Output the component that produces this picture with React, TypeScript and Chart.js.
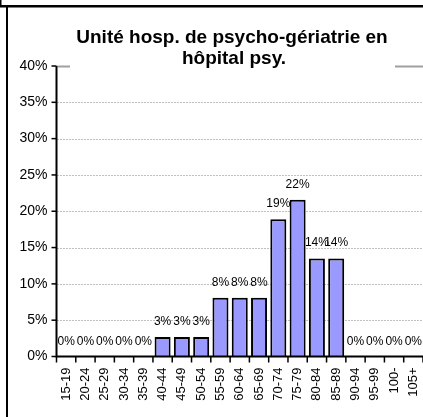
import React, { useEffect, useRef } from "react";
import { Chart, registerables } from "chart.js";

Chart.register(...registerables);

const categories = [
  "15-19", "20-24", "25-29", "30-34", "35-39", "40-44", "45-49", "50-54", "55-59",
  "60-64", "65-69", "70-74", "75-79", "80-84", "85-89", "90-94", "95-99", "100-", "105+",
];
const values = [0, 0, 0, 0, 0, 2.7, 2.7, 2.7, 8.1, 8.1, 8.1, 18.9, 21.6, 13.5, 13.5, 0, 0, 0, 0];
const yTicks = [0, 5, 10, 15, 20, 25, 30, 35, 40];
const titleLines = ["Unité hosp. de psycho-gériatrie en", "hôpital psy."];

const FONT = '"Liberation Sans", Arial, sans-serif';

const decorPlugin = {
  id: "decor",
  beforeDraw(chart: any) {
    const ctx = chart.ctx;
    ctx.save();
    ctx.fillStyle = "#fff";
    ctx.fillRect(0, 0, chart.width, chart.height);
    ctx.restore();
  },
  beforeDatasetsDraw(chart: any) {
    const ctx = chart.ctx;
    const area = chart.chartArea;
    const y = chart.scales.y;
    ctx.save();
    // grid lines
    yTicks.forEach((v) => {
      if (v === 0) return;
      const py = Math.round(y.getPixelForValue(v)) + 0.5;
      ctx.beginPath();
      if (v === 40) {
        ctx.strokeStyle = "#a0a0a0";
        ctx.lineWidth = 2;
        ctx.setLineDash([]);
      } else {
        ctx.strokeStyle = "#808080";
        ctx.lineWidth = 1;
        ctx.setLineDash([1, 2]);
      }
      ctx.moveTo(area.left + 1, py);
      ctx.lineTo(area.right, py);
      ctx.stroke();
    });
    ctx.setLineDash([]);
    // y tick marks
    ctx.strokeStyle = "#000";
    ctx.lineWidth = 1.5;
    yTicks.forEach((v) => {
      const py = y.getPixelForValue(v);
      ctx.beginPath();
      ctx.moveTo(area.left - 5, py);
      ctx.lineTo(area.left, py);
      ctx.stroke();
    });
    // x tick marks (category boundaries)
    const n = categories.length;
    const w = (area.right - area.left) / n;
    for (let i = 0; i <= n; i++) {
      const px = area.left + i * w;
      ctx.beginPath();
      ctx.moveTo(px, area.bottom);
      ctx.lineTo(px, area.bottom + 6);
      ctx.stroke();
    }
    ctx.restore();
  },
  afterDatasetsDraw(chart: any) {
    const ctx = chart.ctx;
    const area = chart.chartArea;
    const meta = chart.getDatasetMeta(0);
    ctx.save();
    // axes
    ctx.strokeStyle = "#000";
    ctx.lineWidth = 2;
    ctx.beginPath();
    ctx.moveTo(area.left, area.top);
    ctx.lineTo(area.left, area.bottom);
    ctx.lineTo(area.right, area.bottom);
    ctx.stroke();
    // data labels
    ctx.fillStyle = "#000";
    ctx.font = `12px ${FONT}`;
    ctx.textAlign = "center";
    ctx.textBaseline = "alphabetic";
    meta.data.forEach((bar: any, i: number) => {
      ctx.fillText(`${Math.round(values[i])}%`, bar.x, bar.y - 12);
    });
    ctx.restore();
  },
  afterDraw(chart: any) {
    const ctx = chart.ctx;
    ctx.save();
    // title box covering top grid line
    ctx.fillStyle = "#fff";
    ctx.fillRect(70, 18, 325, 52);
    ctx.fillStyle = "#000";
    ctx.font = `bold 19px ${FONT}`;
    ctx.textAlign = "center";
    ctx.textBaseline = "alphabetic";
    ctx.fillText(titleLines[0], 232, 42.5);
    ctx.fillText(titleLines[1], 234, 64);
    // frame
    ctx.strokeStyle = "#000";
    ctx.lineWidth = 2.5;
    ctx.beginPath();
    ctx.moveTo(0, 6.25);
    ctx.lineTo(chart.width, 6.25);
    ctx.stroke();
    ctx.lineWidth = 2;
    ctx.beginPath();
    ctx.moveTo(7, 6);
    ctx.lineTo(7, chart.height);
    ctx.stroke();
    ctx.lineWidth = 1.5;
    ctx.beginPath();
    ctx.moveTo(0.75, 0);
    ctx.lineTo(0.75, 6);
    ctx.stroke();
    ctx.restore();
  },
};

export default function App() {
  const ref = useRef<HTMLCanvasElement | null>(null);
  useEffect(() => {
    document.body.style.margin = "0";
    const canvas = ref.current;
    if (!canvas) return;
    const chart = new Chart(canvas, {
      type: "bar",
      data: {
        labels: categories,
        datasets: [
          {
            data: values,
            backgroundColor: "#9999FF",
            borderColor: "#000",
            borderWidth: 2,
            barPercentage: 0.83,
            categoryPercentage: 1,
          },
        ],
      },
      options: {
        animation: false,
        responsive: false,
        devicePixelRatio: 1,
        layout: { padding: { top: 66, left: 0, right: 0, bottom: 0 } },
        plugins: {
          legend: { display: false },
          title: { display: false },
          tooltip: { enabled: false },
        },
        scales: {
          x: {
            type: "category",
            offset: true,
            grid: { display: false, drawTicks: false, offset: true },
            border: { display: false },
            ticks: {
              autoSkip: false,
              minRotation: 90,
              maxRotation: 90,
              padding: 11,
              color: "#000",
              font: { family: FONT, size: 13 },
            },
            afterFit(scale: any) {
              scale.height = 60.5;
              scale.paddingLeft = 0;
              scale.paddingRight = 0;
            },
          },
          y: {
            min: 0,
            max: 40,
            grid: { display: false, drawTicks: false },
            border: { display: false },
            ticks: {
              stepSize: 5,
              padding: 9,
              color: "#000",
              font: { family: FONT, size: 14 },
              callback: (v: any) => `${v}%`,
            },
            afterFit(scale: any) {
              scale.width = 56.5;
            },
          },
        },
      },
      plugins: [decorPlugin],
    });
    return () => chart.destroy();
  }, []);
  return <canvas ref={ref} width={423} height={417} style={{ display: "block" }} />;
}
